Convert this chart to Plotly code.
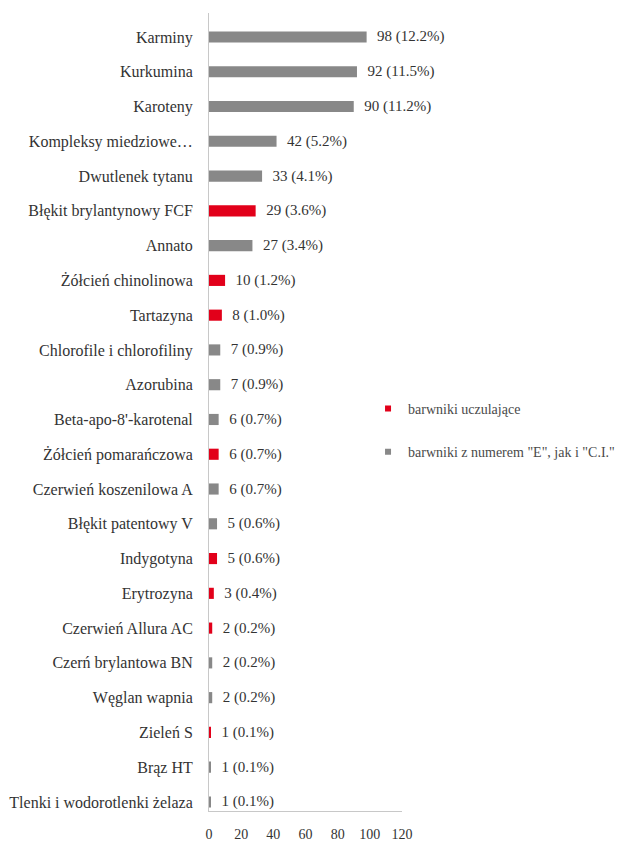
import plotly.graph_objects as go

# Colourants, ordered from most to least frequent
categories = [
    "Karminy", "Kurkumina", "Karoteny", "Kompleksy miedziowe…", "Dwutlenek tytanu",
    "Błękit brylantynowy FCF", "Annato", "Żółcień chinolinowa", "Tartazyna",
    "Chlorofile i chlorofiliny", "Azorubina", "Beta-apo-8'-karotenal",
    "Żółcień pomarańczowa", "Czerwień koszenilowa A", "Błękit patentowy V",
    "Indygotyna", "Erytrozyna", "Czerwień Allura AC", "Czerń brylantowa BN",
    "Węglan wapnia", "Zieleń S", "Brąz HT", "Tlenki i wodorotlenki żelaza",
]
counts = [98, 92, 90, 42, 33, 29, 27, 10, 8, 7, 7, 6, 6, 6, 5, 5, 3, 2, 2, 2, 1, 1, 1]
percents = [12.2, 11.5, 11.2, 5.2, 4.1, 3.6, 3.4, 1.2, 1.0, 0.9, 0.9, 0.7, 0.7, 0.7,
            0.6, 0.6, 0.4, 0.2, 0.2, 0.2, 0.1, 0.1, 0.1]
allergenic = [
    "Błękit brylantynowy FCF", "Żółcień chinolinowa", "Tartazyna",
    "Żółcień pomarańczowa", "Indygotyna", "Erytrozyna", "Czerwień Allura AC", "Zieleń S",
]
series_names = ["barwniki uczulające", 'barwniki z numerem "E", jak i "C.I."']
x_ticks = [0, 20, 40, 60, 80, 100, 120]

RED = "#e2001a"
GREY = "#888888"
TEXT = "#333333"
FONT = "Liberation Serif"
GAP = "\u00a0\u00a0"

labels = [f"{GAP}{c} ({p:.1f}%)" for c, p in zip(counts, percents)]
is_red = [c in allergenic for c in categories]

fig = go.Figure()
for name, flag, color in [(series_names[0], True, RED), (series_names[1], False, GREY)]:
    fig.add_trace(go.Bar(
        orientation="h",
        y=categories,
        x=[v if r == flag else None for v, r in zip(counts, is_red)],
        text=[t if r == flag else None for t, r in zip(labels, is_red)],
        textposition="outside",
        constraintext="none",
        cliponaxis=False,
        textfont=dict(family=FONT, size=15, color=TEXT),
        marker=dict(color=color, line=dict(width=0)),
        width=0.32,
        showlegend=False,
        hoverinfo="skip",
    ))

# legend entries with small square keys
for i, (name, color) in enumerate([(series_names[0], RED), (series_names[1], GREY)]):
    fig.add_trace(go.Scatter(
        x=[None], y=[None], mode="markers", name=name,
        marker=dict(symbol="square", size=6, color=color),
        legendgroup=f"g{i}",
    ))

fig.update_layout(
    width=632, height=843,
    margin=dict(l=209, r=230, t=13, b=32),
    paper_bgcolor="white", plot_bgcolor="white",
    barmode="overlay",
    font=dict(family=FONT, color=TEXT),
    showlegend=True,
    legend=dict(
        x=0.824, y=0.524, xanchor="left", yanchor="top",
        font=dict(family=FONT, size=14, color="#4a4a4a"),
        traceorder="grouped", tracegroupgap=22,
        bgcolor="rgba(0,0,0,0)", itemwidth=30,
    ),
    xaxis=dict(
        range=[0, 120], tickvals=x_ticks, showgrid=False, zeroline=False,
        showline=True, linecolor="#c8c8c8", linewidth=1,
        tickfont=dict(family=FONT, size=14, color=TEXT),
        ticklabelstandoff=10, automargin=False,
    ),
    yaxis=dict(
        type="category", categoryorder="array", categoryarray=categories,
        range=[22.26, -0.69], showgrid=False, zeroline=False,
        showline=True, linecolor="#c8c8c8", linewidth=1,
        tickfont=dict(family=FONT, size=16, color=TEXT),
        ticklabelstandoff=12, automargin=False,
    ),
)

fig.write_html("out.html")
